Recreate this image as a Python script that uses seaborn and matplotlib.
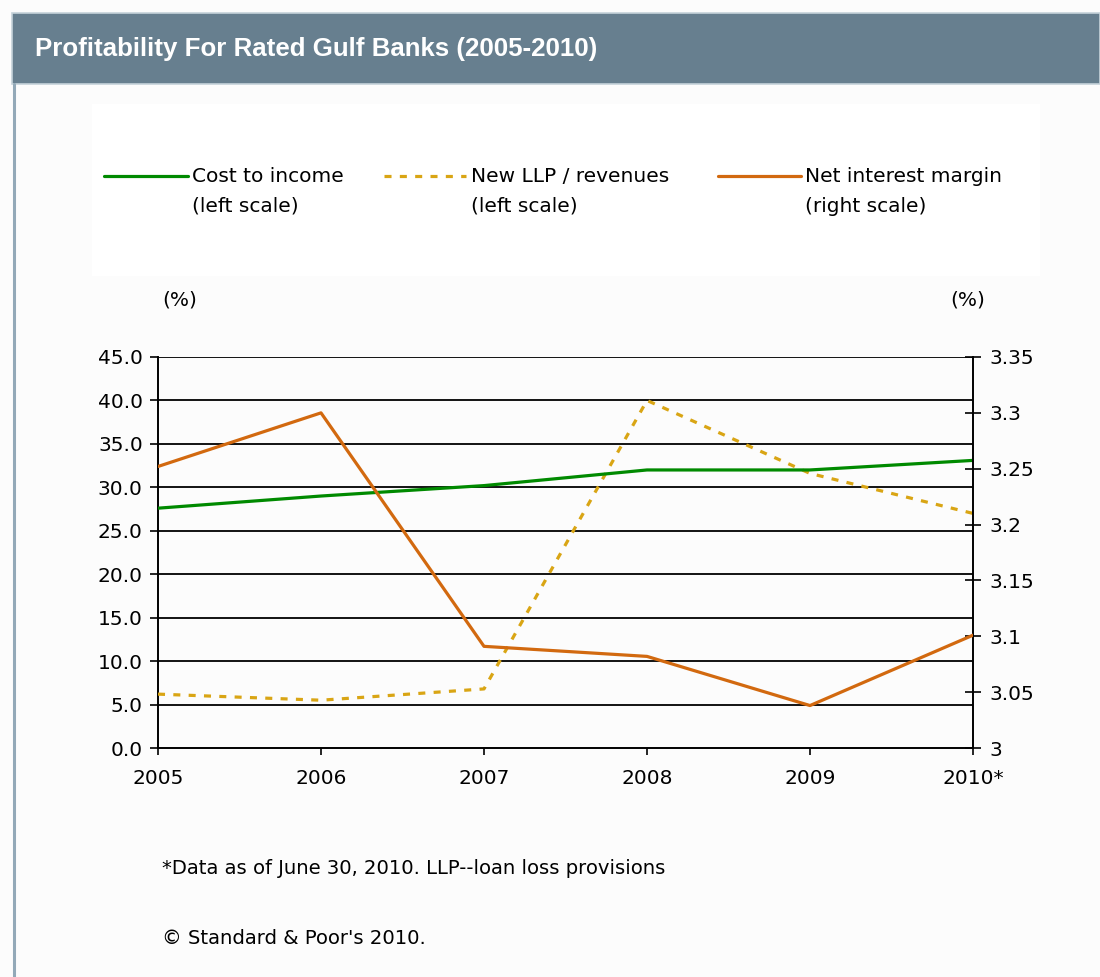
import matplotlib
matplotlib.use("Agg")
import matplotlib.pyplot as plt
from matplotlib.patches import Rectangle
from matplotlib.lines import Line2D
import seaborn as sns
import pandas as pd

# Data
years = ["2005", "2006", "2007", "2008", "2009", "2010*"]
cost_to_income = [27.6, 29.0, 30.2, 32.0, 32.0, 33.1]
new_llp_revenues = [6.2, 5.5, 6.8, 40.0, 31.6, 27.0]
net_interest_margin = [3.252, 3.300, 3.091, 3.082, 3.038, 3.101]

left_ticks = [0, 5, 10, 15, 20, 25, 30, 35, 40, 45]
right_ticks = [3.0, 3.05, 3.1, 3.15, 3.2, 3.25, 3.3, 3.35]
right_tick_labels = ["3", "3.05", "3.1", "3.15", "3.2", "3.25", "3.3", "3.35"]

GREEN = "#008A00"
GOLD = "#D9A514"
ORANGE = "#D2690F"
HEADER = "#677F8F"
FS = 14.5

sns.set_theme(style="white")
plt.rcParams["font.family"] = ["DejaVu Sans"]

W, H = 1100, 977
fig = plt.figure(figsize=(W / 100, H / 100), dpi=100)
fig.patch.set_facecolor("#FCFCFC")

def fx(px):
    return px / W

def fy(py):
    return 1 - py / H

# Header band and frame line
fig.patches.append(Rectangle((fx(12), fy(84)), fx(1100 - 12), (84 - 13) / H,
                             transform=fig.transFigure, facecolor=HEADER,
                             edgecolor="#C5D2DA", linewidth=1.2, zorder=0))
fig.add_artist(Line2D([fx(14), fx(14)], [fy(84), 0], transform=fig.transFigure,
                      color="#93A9B8", linewidth=2.2))
fig.text(fx(35), fy(49), "Profitability For Rated Gulf Banks (2005-2010)",
         color="white", fontsize=18.6, fontweight="bold", va="center", ha="left",
         family=["Liberation Sans Narrow", "Liberation Sans"])

# Legend panel
fig.patches.append(Rectangle((fx(92), fy(276)), fx(1040 - 92), (276 - 104) / H,
                             transform=fig.transFigure, facecolor="white",
                             edgecolor="none", zorder=0))

df = pd.DataFrame({
    "pos": range(len(years)),
    "cost": cost_to_income,
    "llp": new_llp_revenues,
    "nim": net_interest_margin,
})

ax = fig.add_axes([fx(158), fy(748), fx(973 - 158), (748 - 357) / H])
ax.set_facecolor("none")
ax2 = ax.twinx()

sns.lineplot(data=df, x="pos", y="cost", ax=ax, color=GREEN, linewidth=2.3, zorder=4)
sns.lineplot(data=df, x="pos", y="llp", ax=ax, color=GOLD, linewidth=2.3, zorder=3,
             dashes=False)
ax.lines[-1].set_dashes((2.2, 2.6))
sns.lineplot(data=df, x="pos", y="nim", ax=ax2, color=ORANGE, linewidth=2.3, zorder=4)

ax.set_xlim(0, len(years) - 1)
ax.set_ylim(0, 45)
ax2.set_ylim(3.0, 3.35)
ax.set_xticks(range(len(years)))
ax.set_xticklabels(years)
ax.set_yticks(left_ticks)
ax.set_yticklabels([f"{v:.1f}" for v in left_ticks])
ax2.set_yticks(right_ticks)
ax2.set_yticklabels(right_tick_labels)
ax.set_xlabel("")
ax.set_ylabel("")
ax2.set_ylabel("")

for a in (ax, ax2):
    a.grid(False)
    for s in a.spines.values():
        s.set_visible(False)
ax.spines["left"].set_visible(True)
ax.spines["bottom"].set_visible(True)
ax2.spines["right"].set_visible(True)
for s in (ax.spines["left"], ax.spines["bottom"], ax2.spines["right"]):
    s.set_color("black")
    s.set_linewidth(1.4)

for v in left_ticks[1:]:
    ax.axhline(v, color="black", linewidth=1.3, zorder=1)

ax.tick_params(axis="y", direction="out", length=6, width=1.2, color="black",
               labelsize=FS, labelcolor="black", pad=5, left=True)
ax.tick_params(axis="x", direction="out", length=5, width=1.2, color="black",
               labelsize=FS, labelcolor="black", pad=10, bottom=True)
ax2.tick_params(axis="y", direction="inout", length=11, width=1.2, color="black",
                labelsize=FS, labelcolor="black", pad=6, right=True)

ax.set_zorder(2)
ax2.set_zorder(3)
ax2.patch.set_visible(False)

# Unit labels
fig.text(fx(180), fy(300), "(%)", fontsize=FS, ha="center", va="center", color="black")
fig.text(fx(968), fy(300), "(%)", fontsize=FS, ha="center", va="center", color="black")

# Legend entries
legend_items = [
    (104, 188, 192, GREEN, None, "Cost to income", "(left scale)"),
    (384, 466, 471, GOLD, (2.2, 2.6), "New LLP / revenues", "(left scale)"),
    (718, 801, 805, ORANGE, None, "Net interest margin", "(right scale)"),
]
for x0, x1, xt, col, dash, line1, line2 in legend_items:
    ln = Line2D([fx(x0), fx(x1)], [fy(176), fy(176)], transform=fig.transFigure,
                color=col, linewidth=2.3)
    if dash:
        ln.set_dashes(dash)
    fig.add_artist(ln)
    fig.text(fx(xt), fy(176), line1, fontsize=FS, ha="left", va="center", color="black")
    fig.text(fx(xt), fy(206), line2, fontsize=FS, ha="left", va="center", color="black")

# Footnotes
fig.text(fx(162), fy(869), "*Data as of June 30, 2010. LLP--loan loss provisions",
         fontsize=14.1, ha="left", va="center", color="black")
fig.text(fx(162), fy(938), "\u00a9 Standard & Poor's 2010.",
         fontsize=14.1, ha="left", va="center", color="black")

fig.savefig("out.png", dpi=100, facecolor=fig.get_facecolor())
